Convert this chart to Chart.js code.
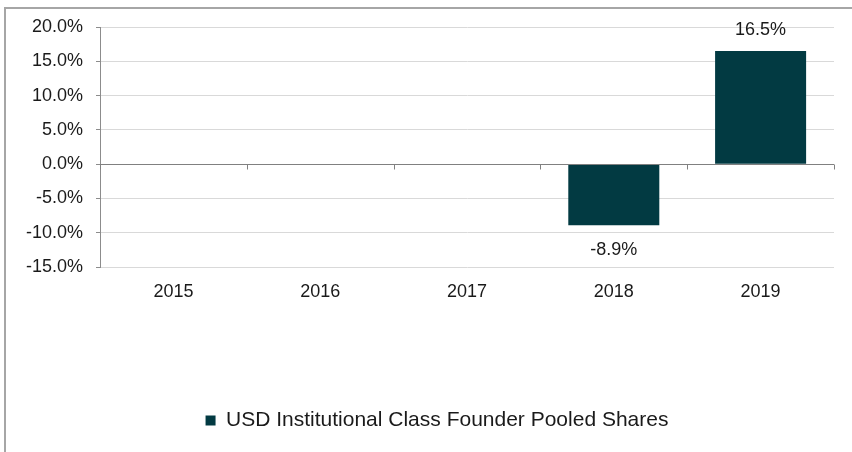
<!DOCTYPE html>
<html>
<head>
<meta charset="utf-8">
<script src="https://cdn.jsdelivr.net/npm/chart.js@4/dist/chart.umd.min.js"></script>
<style>
  html, body { margin: 0; padding: 0; background: #fff; }
  #wrap { position: relative; width: 852px; height: 452px; overflow: hidden; }
  #frame { position: absolute; left: 4px; top: 7px; width: 900px; height: 500px;
           border-top: 2px solid #a6a6a6; border-left: 2px solid #a6a6a6; box-sizing: border-box; }
  canvas { position: absolute; left: 0; top: 0; }
</style>
</head>
<body>
<div id="wrap">
  <div id="frame"></div>
  <canvas id="c" width="852" height="452"></canvas>
</div>
<script>
const categories = ['2015', '2016', '2017', '2018', '2019'];
const seriesName = 'USD Institutional Class Founder Pooled Shares';
const returns = [null, null, null, -8.9, 16.5];
const yMin = -15, yMax = 20, yStep = 5;

const FONT = "'Liberation Sans', Arial, sans-serif";

const valueLabels = {
  id: 'valueLabels',
  afterDatasetsDraw(chart) {
    const ctx = chart.ctx;
    const meta = chart.getDatasetMeta(0);
    ctx.save();
    ctx.font = '18px ' + FONT;
    ctx.fillStyle = '#1a1a1a';
    ctx.textAlign = 'center';
    meta.data.forEach((bar, i) => {
      const v = returns[i];
      if (v === null || v === undefined) return;
      const txt = v.toFixed(1) + '%';
      if (v >= 0) {
        ctx.textBaseline = 'bottom';
        ctx.fillText(txt, bar.x, bar.y - 12);
      } else {
        ctx.textBaseline = 'top';
        ctx.fillText(txt, bar.x, bar.y + 16);
      }
    });
    ctx.restore();
  }
};

const zeroAxis = {
  id: 'zeroAxis',
  afterDatasetsDraw(chart) {
    const {ctx, scales: {x, y}} = chart;
    const y0 = Math.round(y.getPixelForValue(0)) + 0.5;
    ctx.save();
    ctx.strokeStyle = '#808080';
    ctx.lineWidth = 1;
    ctx.beginPath();
    ctx.moveTo(x.left, y0);
    ctx.lineTo(x.right, y0);
    const n = categories.length;
    for (let i = 0; i <= n; i++) {
      let px;
      if (i === 0) px = x.left;
      else if (i === n) px = x.right;
      else px = (x.getPixelForValue(i - 1) + x.getPixelForValue(i)) / 2;
      px = Math.round(px) + 0.5;
      ctx.moveTo(px, y0);
      ctx.lineTo(px, y0 + 5);
    }
    ctx.stroke();
    ctx.restore();
  }
};

const legendShift = {
  id: 'legendShift',
  afterLayout(chart) {
    if (chart.legend) {
      chart.legend.left += 20;
      chart.legend.right += 20;
    }
  }
};

new Chart(document.getElementById('c'), {
  type: 'bar',
  data: {
    labels: categories,
    datasets: [{
      label: seriesName,
      data: returns,
      backgroundColor: '#023a42',
      borderWidth: 0,
      categoryPercentage: 1.0,
      barPercentage: 0.62
    }]
  },
  options: {
    responsive: false,
    animation: false,
    devicePixelRatio: 1,
    layout: { padding: { left: 0, right: 18, top: 27, bottom: 11 } },
    plugins: {
      legend: {
        display: true,
        position: 'bottom',
        labels: {
          boxWidth: 10, boxHeight: 10, padding: 10,
          color: '#1a1a1a',
          font: { family: FONT, size: 21 }
        }
      },
      tooltip: { enabled: false }
    },
    scales: {
      x: {
        grid: { display: false, drawTicks: false },
        border: { display: false },
        ticks: { color: '#1a1a1a', font: { family: FONT, size: 18 }, padding: 14 },
        afterFit(s) { s.height = 133; }
      },
      y: {
        min: yMin, max: yMax,
        ticks: {
          stepSize: yStep,
          color: '#1a1a1a',
          font: { family: FONT, size: 18 },
          padding: 13,
          callback: v => v.toFixed(1) + '%'
        },
        grid: {
          color: ctx => ctx.tick && ctx.tick.value === 0 ? 'rgba(0,0,0,0)' : '#d9d9d9',
          tickColor: '#8c8c8c',
          tickLength: 4,
          lineWidth: 1
        },
        border: { display: true, color: '#8c8c8c', width: 1 },
        afterFit(s) { s.width = 100; }
      }
    }
  },
  plugins: [valueLabels, zeroAxis, legendShift]
});
</script>
</body>
</html>
